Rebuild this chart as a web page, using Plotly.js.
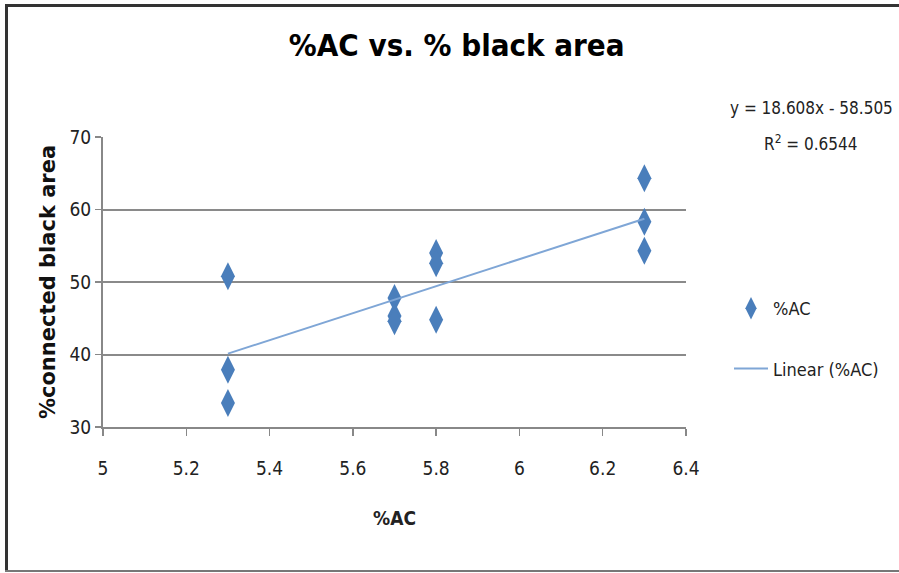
<!DOCTYPE html>
<html>
<head>
<meta charset="utf-8">
<script src="https://cdn.plot.ly/plotly-3.0.1.min.js"></script>
<style>
html,body{margin:0;padding:0;background:#fff;}
#chart{width:899px;height:573px;}
</style>
</head>
<body>
<div id="chart"></div>
<script>
// Data
const acX = [5.3, 5.3, 5.3, 5.7, 5.7, 5.7, 5.8, 5.8, 5.8, 6.3, 6.3, 6.3];
const blackArea = [50.8, 37.9, 33.3, 47.8, 45.3, 44.6, 54.0, 52.6, 44.8, 64.3, 58.3, 54.3];
const trendSlope = 18.608;
const trendIntercept = -58.505;
const trendR2 = 0.6544;
const xTicks = [5, 5.2, 5.4, 5.6, 5.8, 6, 6.2, 6.4];
const yTicks = [30, 40, 50, 60, 70];

const trendX = [Math.min(...acX), Math.max(...acX)];
const trendY = trendX.map(v => trendSlope * v + trendIntercept);

const narrow = '"DejaVu Sans Condensed", "Liberation Sans Narrow", "Liberation Sans", sans-serif';

const traces = [
  {
    x: acX, y: blackArea, type: 'scatter', mode: 'markers', name: '%AC',
    legendgroup: 'a',
    marker: {symbol: 'diamond-tall', size: 20, color: '#4a7ebb', line: {width: 0}}
  },
  {
    x: trendX, y: trendY, type: 'scatter', mode: 'lines', name: 'Linear (%AC)',
    legendgroup: 'b',
    line: {color: '#7fa6d6', width: 2}
  }
];

// frame in paper coords (plot area: x 103..686, y 137..427)
const px = v => (v - 103) / 583;
const py = v => (427 - v) / 290;

const layout = {
  width: 899, height: 573,
  margin: {l: 103, r: 213, t: 137, b: 146, autoexpand: false},
  paper_bgcolor: '#fff', plot_bgcolor: '#fff',
  showlegend: true,
  title: {
    text: '<b>%AC vs. % black area</b>',
    font: {family: narrow, size: 31, color: '#000'},
    x: 0.508, xanchor: 'center', y: 0.922, yanchor: 'middle'
  },
  xaxis: {
    range: [5, 6.4], tickvals: xTicks, ticktext: xTicks.map(String),
    showgrid: false, zeroline: false,
    showline: true, linecolor: '#888', linewidth: 2,
    ticks: 'outside', ticklen: 7, tickwidth: 1.5, tickcolor: '#888',
    ticklabelstandoff: 16,
    tickfont: {family: narrow, size: 19, color: '#222'},
    title: {text: '<b>%AC</b>', font: {family: narrow, size: 19, color: '#222'}, standoff: 34}
  },
  yaxis: {
    range: [30, 70], tickvals: yTicks,
    showgrid: true, gridcolor: '#8a8a8a', gridwidth: 2, zeroline: false,
    showline: true, linecolor: '#888', linewidth: 2,
    ticks: 'outside', ticklen: 6, tickwidth: 1.5, tickcolor: '#888',
    tickfont: {family: narrow, size: 19, color: '#222'},
    title: {text: '<b>%connected black area</b>', font: {family: '"DejaVu Sans", sans-serif', size: 21, color: '#111'}, standoff: 8}
  },
  legend: {
    x: px(729), xanchor: 'left', y: py(290), yanchor: 'top',
    font: {family: narrow, size: 18, color: '#222'},
    tracegroupgap: 34, traceorder: 'grouped',
    bgcolor: 'rgba(0,0,0,0)', itemwidth: 34
  },
  annotations: [
    {
      xref: 'paper', yref: 'paper', x: px(811), y: py(108), xanchor: 'center', yanchor: 'middle',
      text: 'y = ' + trendSlope.toFixed(3) + 'x - ' + Math.abs(trendIntercept).toFixed(3),
      showarrow: false, font: {family: narrow, size: 17, color: '#222'}
    },
    {
      xref: 'paper', yref: 'paper', x: px(810), y: py(143), xanchor: 'center', yanchor: 'middle',
      text: 'R<sup>2</sup> = ' + trendR2.toFixed(4),
      showarrow: false, font: {family: narrow, size: 17, color: '#222'}
    }
  ],
  shapes: [
    {type: 'line', xref: 'paper', yref: 'paper', x0: px(6.5), x1: px(6.5), y0: py(572), y1: py(5), line: {color: '#333', width: 3}},
    {type: 'line', xref: 'paper', yref: 'paper', x0: px(5), x1: px(905), y0: py(5.5), y1: py(5.5), line: {color: '#333', width: 3}},
    {type: 'line', xref: 'paper', yref: 'paper', x0: px(5), x1: px(905), y0: py(571), y1: py(571), line: {color: '#777', width: 2}}
  ]
};

Plotly.newPlot('chart', traces, layout, {displayModeBar: false, staticPlot: true});
</script>
</body>
</html>
